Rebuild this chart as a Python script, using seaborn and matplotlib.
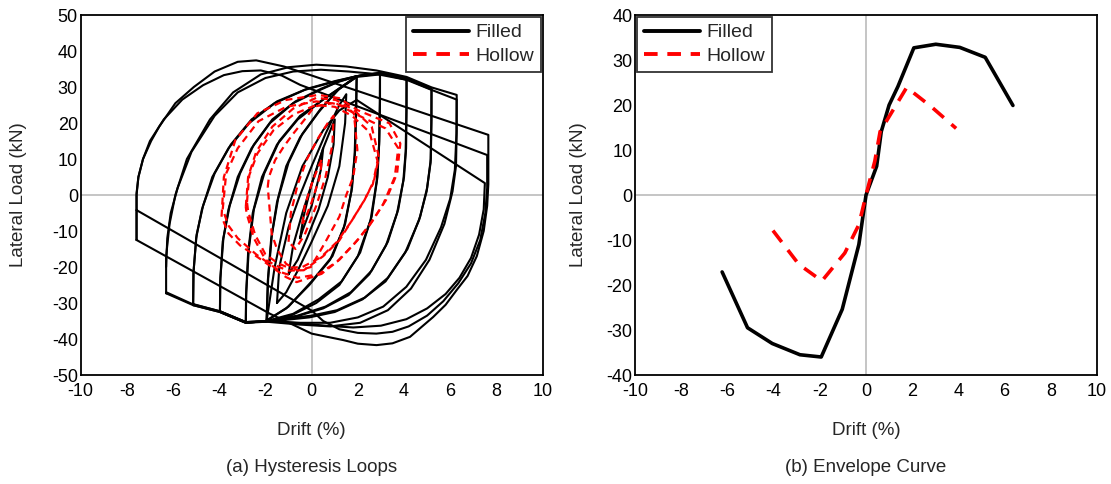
import numpy as np
import pandas as pd
import matplotlib
matplotlib.use("Agg")
import matplotlib.pyplot as plt
from matplotlib.lines import Line2D
import seaborn as sns

sns.set_style("white")
plt.rcParams["font.family"] = ["Liberation Sans", "DejaVu Sans"]
plt.rcParams["axes.unicode_minus"] = False

# ---------------- hysteresis loops: filled specimen (drift %, load kN) ----------------
f05_drift = [-0.5, -0.35, 0.0, 0.35, 0.5, 0.4, 0.0, -0.4, -0.5]
f05_load = [-12, -6, 3, 10, 13, 7, -3, -10, -12]

f10_drift = [-1.0, -0.8, -0.4, 0.0, 0.5, 1.0, 0.95, 0.7, 0.3, -0.2, -0.6, -1.0]
f10_load = [-22, -14, -5, 3, 13, 21, 14, 5, -4, -12, -18, -22]

f15_drift = [-1.5, -1.4, -1.0, -0.5, 0.0, 0.6, 1.2, 1.5, 1.45, 1.2, 0.7, 0.0, -0.6, -1.1, -1.5]
f15_load = [-30, -20, -9, 0, 8, 17, 25, 28, 20, 8, -3, -13, -21, -27, -30]

f20a_drift = [-1.95, -1.9, -1.75, -1.5, -1.1, -0.5, 0.3, 1.1, 1.95, 1.93, 1.88, 1.75, 1.45, 0.9, 0.0, -1.0, -1.95]
f20a_load = [-35, -24, -12, -2, 8, 16, 23, 29, 33, 24, 12, 2, -8, -17, -24, -31, -35]

f20b_drift = [-1.95, -1.88, -1.72, -1.45, -1.0, -0.4, 0.4, 1.2, 1.95, 1.92, 1.86, 1.72, 1.4, 0.8, -0.1, -1.1, -1.95]
f20b_load = [-34.8, -23, -11, -1, 9, 17, 24, 29.5, 32.8, 23, 11, 1, -9, -18, -25, -31.5, -34.8]

f30a_drift = [-2.85, -2.84, -2.75, -2.55, -2.15, -1.5, -0.6, 0.5, 1.3, 1.95, 2.96,
              2.96, 2.93, 2.85, 2.6, 2.1, 1.3, 0.3, -0.8, -1.95, -2.85]
f30a_load = [-35.5, -28, -16, -5, 5, 14, 21, 26.5, 30, 33, 33.9,
             26, 15, 5, -6, -16, -24, -29, -33, -35, -35.5]

f30b_drift = [-2.85, -2.83, -2.72, -2.5, -2.05, -1.4, -0.5, 0.6, 1.35, 1.95, 2.96,
              2.95, 2.92, 2.82, 2.55, 2.0, 1.2, 0.2, -0.9, -1.95, -2.85]
f30b_load = [-35.3, -27, -15, -4, 6, 15, 22, 27, 30.3, 32.8, 33.5,
             25, 14, 4, -7, -17, -25, -30, -33.5, -35.2, -35.3]

f40a_drift = [-3.97, -3.96, -3.85, -3.6, -3.2, -2.6, -1.8, -0.8, 0.3, 1.1, 1.95, 2.96, 4.11,
              4.11, 4.09, 4.0, 3.75, 3.3, 2.6, 1.7, 0.6, -0.6, -1.95, -2.85, -3.97]
f40a_load = [-32.5, -24, -13, -4, 5, 13, 20, 25.5, 29, 31.3, 33, 33.9, 32.5,
             24, 13, 5, -4, -13, -21, -27, -31, -33.5, -35, -35.5, -32.5]

f40b_drift = [-3.97, -3.95, -3.82, -3.55, -3.1, -2.5, -1.7, -0.7, 0.4, 1.2, 1.95, 2.96, 4.11,
              4.1, 4.07, 3.97, 3.7, 3.22, 2.5, 1.6, 0.5, -0.7, -1.95, -2.85, -3.97]
f40b_load = [-32.3, -23, -12, -3, 6, 14, 21, 26, 29.5, 31.6, 33, 33.7, 32.0,
             23, 12, 4, -5, -14, -22, -27.8, -31.5, -33.8, -35.1, -35.3, -32.3]

f51a_drift = [-5.13, -5.12, -5.0, -4.75, -4.3, -3.6, -2.7, -1.6, -0.3, 1.0, 1.95, 2.96, 4.11, 5.19,
              5.19, 5.16, 5.0, 4.7, 4.15, 3.3, 2.3, 1.1, 0.0, -1.0, -1.95, -2.85, -3.97, -5.13]
f51a_load = [-30.6, -22, -12, -4, 5, 13, 20, 25.5, 29.2, 31.5, 33, 33.9, 32.5, 29.7,
             21, 10, 2, -6, -15, -23, -28.5, -32, -33.5, -34.3, -35, -35.5, -32.5, -30.6]

f51b_drift = [-5.13, -5.11, -4.98, -4.7, -4.2, -3.5, -2.6, -1.5, -0.2, 1.05, 1.95, 2.96, 4.11, 5.19,
              5.18, 5.15, 4.98, 4.65, 4.05, 3.2, 2.2, 1.0, -0.1, -1.0, -1.95, -2.85, -3.97, -5.13]
f51b_load = [-30.3, -21, -11, -3, 6, 14, 21, 26, 29.5, 31.7, 33, 33.7, 32.2, 29.3,
             20, 9, 1, -7, -16, -24, -29, -32.5, -34, -34.6, -35.1, -35.3, -32.3, -30.3]

f63a_drift = [-6.3, -6.3, -6.15, -5.9, -5.4, -4.4, -3.4, -2.2, -1.0, 0.2, 1.5, 2.8, 4.11, 5.19, 6.28,
              6.28, 6.25, 6.1, 5.75, 5.1, 4.3, 3.3, 2.1, 0.8, -0.5, -1.95, -2.85, -3.97, -5.13, -6.3]
f63a_load = [-27.3, -17, -8, 0, 10, 21, 28.5, 33.5, 35.5, 36.2, 35.7, 34.6, 32.8, 29.9, 27.8,
             18, 8, 1, -8, -18, -26, -32, -35.5, -36.5, -36, -35.2, -35.5, -32.5, -30.6, -27.3]

f63b_drift = [-6.3, -6.25, -6.1, -5.8, -5.2, -4.2, -3.2, -2.0, -0.8, 0.4, 1.6, 2.8, 4.11, 5.19, 6.28,
              6.27, 6.2, 6.0, 5.6, 4.95, 4.1, 3.1, 2.0, 0.8, -0.5, -1.95, -2.85, -3.97, -5.13, -6.3]
f63b_load = [-20, -12, -5, 2, 12, 22, 28.5, 32.5, 34.3, 34.8, 34.3, 33.6, 32.0, 29.2, 26.5,
             17, 7, -1, -9, -18, -25.5, -31, -34, -35.5, -35.5, -35, -35.3, -32.3, -30.4, -27]

f76a_drift = [-7.58, -7.58, -7.58, -7.5, -7.3, -6.95, -6.6, -5.9, -5.1, -4.2, -3.2, -2.4, -1.2, 0.0, 7.65,
              7.65, 7.6, 7.45, 7.15, 6.75, 6.28, 5.8, 5.26, 4.26, 3.5, 2.81, 2.0, 1.37, 0.6, 0.0, -1.8, -7.58]
f76a_load = [-12.5, -4.2, 0, 5, 10, 15, 19, 25.5, 30, 34.3, 37.0, 37.4, 35.7, 33.2, 16.7,
             3, -3, -10, -17, -22.5, -26.4, -30.5, -33.9, -39.4, -41.2, -41.7, -41.3, -40.3, -39.3, -38.5, -33, -12.5]

f76b_drift = [-7.58, -7.58, -7.5, -7.3, -7.0, -6.4, -5.6, -4.7, -3.8, -3.0, -2.2, -1.3, -0.5, 7.6,
              7.6, 7.52, 7.3, 6.9, 6.35, 5.7, 5.0, 4.2, 3.5, 2.8, 2.0, 1.2, 0.5, 0.0, -7.58]
f76b_load = [-12.5, 0.5, 5, 10, 15, 21, 26.5, 30.5, 33.3, 34.4, 34.6, 33.2, 30.6, 11.1,
             2, -5, -12.5, -19, -24.5, -29.5, -33.5, -36.5, -38, -38.5, -38.3, -37.3, -35, -32.1, -4.2]

f76c_drift = [-1.95, -1.6, -1.1, -0.4, 0.5, 1.2, 1.95, 7.5,
              7.45, 7.25, 6.9, 6.4, 5.8, 5.0, 4.1, 3.0, 1.8, 0.6, -0.6, -1.95]
f76c_load = [-35, -20, -5, 8, 18, 23.5, 26.4, 3.3,
             -4, -11, -17.5, -23, -27.5, -31.5, -34.5, -36.3, -36.8, -36.3, -35.6, -35]

filled_drift = [f05_drift, f10_drift, f15_drift, f20a_drift, f20b_drift, f30a_drift, f30b_drift,
                f40a_drift, f40b_drift, f51a_drift, f51b_drift, f63a_drift, f63b_drift,
                f76a_drift, f76b_drift, f76c_drift]
filled_load = [f05_load, f10_load, f15_load, f20a_load, f20b_load, f30a_load, f30b_load,
               f40a_load, f40b_load, f51a_load, f51b_load, f63a_load, f63b_load,
               f76a_load, f76b_load, f76c_load]

# ---------------- hysteresis loops: hollow specimen ----------------
h05_drift = [-0.4, -0.3, 0.0, 0.3, 0.45, 0.35, 0.0, -0.3, -0.4]
h05_load = [-8, -3, 3, 8, 10, 5, -2, -7, -8]

h10_drift = [-1.0, -0.9, -0.6, -0.2, 0.3, 0.7, 0.95, 0.9, 0.6, 0.2, -0.3, -0.7, -1.0]
h10_load = [-13, -5, 3, 10, 16, 20, 22, 14, 5, -3, -11, -15, -13]

h20_drift = [-1.9, -1.85, -1.58, -1.2, -0.8, -0.3, 0.12, 0.9, 1.5, 1.83, 1.98,
             1.8, 1.5, 1.2, 0.6, -0.03, -0.6, -1.11, -1.5, -1.73, -1.9]
h20_load = [2.3, 5, 9.7, 13.5, 17, 21, 24.6, 25.5, 24.5, 22.7, 12.5,
            5, 0, -6, -13, -20, -21, -19.1, -15, -10.7, 2.3]

h30a_drift = [-2.85, -2.75, -2.4, -1.7, -0.8, 0.2, 1.05, 1.83, 2.6, 2.91,
              2.7, 2.29, 1.8, 1.2, 0.5, -0.34, -1.0, -1.42, -2.0, -2.5, -2.82, -2.85]
h30a_load = [-3.3, 5, 12, 19, 24, 27, 26.4, 23.6, 19, 10.6,
             4, -1.4, -6.5, -12.6, -17, -20.9, -21, -20, -18, -12, -5, -3.3]

h30b_drift = [-2.8, -2.7, -2.35, -1.65, -0.75, 0.2, 1.0, 1.75, 2.5, 2.85,
              2.65, 2.2, 1.7, 1.1, 0.4, -0.4, -1.0, -1.45, -2.0, -2.45, -2.75, -2.8]
h30b_load = [-2, 5.5, 11.5, 18, 22.5, 25, 24.5, 22, 17.5, 9.5,
             3, -2.3, -7.5, -13, -17.3, -20, -20.2, -19, -16.5, -11, -4.5, -2]

h40a_drift = [-3.9, -3.8, -3.3, -2.35, -1.11, 0.28, 1.2, 1.98, 3.37, 3.84,
              3.7, 3.22, 2.6, 1.98, 1.2, 0.43, -0.65, -1.11, -2.35, -3.1, -3.6, -3.9]
h40a_load = [-6, 5, 15.3, 22.7, 26.4, 27.8, 26.9, 23.6, 19.9, 14.3,
             6, -1.4, -7.5, -12.6, -18, -21.9, -24.2, -22.8, -17.2, -14, -10.7, -6]

h40b_drift = [-3.85, -3.7, -3.2, -2.3, -1.1, 0.2, 1.1, 1.9, 3.2, 3.75,
              3.6, 3.1, 2.5, 1.85, 1.1, 0.3, -0.6, -1.3, -2.4, -3.2, -3.6, -3.85]
h40b_load = [-4, 6, 13, 20.5, 24.5, 26, 25.3, 22.5, 18.5, 13,
             5, -2.5, -8.5, -13.5, -18.5, -22, -23, -21.5, -16.5, -12, -8.5, -4]

hollow_drift = [h05_drift, h10_drift, h20_drift, h30a_drift, h30b_drift, h40a_drift, h40b_drift]
hollow_load = [h05_load, h10_load, h20_load, h30a_load, h30b_load, h40a_load, h40b_load]

# ---------------- envelope curves ----------------
env_filled_drift = [-6.23, -5.13, -4.06, -2.86, -1.94, -1.03, -0.31, 0.0, 0.46, 0.66, 1.0, 1.38,
                    2.07, 3.02, 4.06, 5.16, 6.36]
env_filled_load = [-17.1, -29.5, -33.0, -35.5, -36.0, -25.4, -11.0, 0.0, 6.4, 14.1, 20.0, 24.1,
                   32.7, 33.5, 32.8, 30.6, 19.9]

env_hollow_drift = [-4.03, -2.91, -1.91, -0.92, -0.31, 0.0, 0.38, 0.61, 1.76, 2.83, 3.9]
env_hollow_load = [-7.9, -15.4, -19.1, -12.9, -6.6, 0.0, 7.5, 14.1, 23.9, 19.6, 14.8]

x_ticks = list(range(-10, 11, 2))
y_ticks_loops = list(range(-50, 51, 10))
y_ticks_env = list(range(-40, 41, 10))


def loops_frame(drifts, loads, name):
    rows = []
    for i, (xs, ys) in enumerate(zip(drifts, loads)):
        for j, (xv, yv) in enumerate(zip(xs, ys)):
            rows.append((name, i, j, xv, yv))
    return pd.DataFrame(rows, columns=["specimen", "cycle", "step", "drift", "load"])


df_filled = loops_frame(filled_drift, filled_load, "Filled")
df_hollow = loops_frame(hollow_drift, hollow_load, "Hollow")

fig = plt.figure(figsize=(11.11, 4.84), dpi=100)
ax1 = fig.add_axes([0.0726, 0.2252, 0.4158, 0.7438])
ax2 = fig.add_axes([0.5716, 0.2252, 0.4158, 0.7438])

grid_kw = dict(color="#c0c0c0", lw=1.3, zorder=0)
for ax in (ax1, ax2):
    ax.axhline(0, **grid_kw)
    ax.axvline(0, **grid_kw)

# (a) hysteresis loops
sns.lineplot(data=df_filled, x="drift", y="load", units="cycle", estimator=None,
             sort=False, color="black", lw=1.5, ax=ax1, zorder=2)
sns.lineplot(data=df_hollow, x="drift", y="load", units="cycle", estimator=None,
             sort=False, color="red", lw=1.6, ax=ax1, zorder=3,
             linestyle=(0, (3.2, 2.2)))
ax1.set_xlim(-10, 10)
ax1.set_ylim(-50, 50)
ax1.set_xticks(x_ticks)
ax1.set_yticks(y_ticks_loops)

# (b) envelope curves
sns.lineplot(x=env_filled_drift, y=env_filled_load, sort=False, color="black",
             lw=2.6, ax=ax2, zorder=2)
sns.lineplot(x=env_hollow_drift, y=env_hollow_load, sort=False, color="red",
             lw=2.6, ax=ax2, zorder=3, linestyle=(0, (4, 2.8)))
ax2.set_xlim(-10, 10)
ax2.set_ylim(-40, 40)
ax2.set_xticks(x_ticks)
ax2.set_yticks(y_ticks_env)

handles = [Line2D([], [], color="black", lw=2.8),
           Line2D([], [], color="red", lw=2.8, linestyle=(0, (3.5, 2.5)))]
labels = ["Filled", "Hollow"]

for ax, loc, ylab_x in ((ax1, "upper right", -0.116), (ax2, "upper left", -0.104)):
    for sp in ax.spines.values():
        sp.set_color("black")
        sp.set_linewidth(1.3)
    ax.tick_params(axis="both", length=0, labelsize=13, colors="black")
    ax.tick_params(axis="x", pad=6)
    ax.tick_params(axis="y", pad=2)
    ax.set_xlabel("Drift (%)", fontsize=13.5)
    ax.set_ylabel("Lateral Load (kN)", fontsize=13.5)
    ax.xaxis.set_label_coords(0.5, -0.13)
    ax.yaxis.set_label_coords(ylab_x, 0.5)
    leg = ax.legend(handles, labels, loc=loc, fontsize=14, frameon=True,
                    fancybox=False, edgecolor="black", borderaxespad=0.1,
                    handlelength=2.9, handletextpad=0.3, borderpad=0.35,
                    labelspacing=0.3)
    leg.get_frame().set_linewidth(1.3)

fig.text(0.0726 + 0.4158 / 2, 0.035, "(a) Hysteresis Loops", ha="center", va="center",
         fontsize=13.5)
fig.text(0.5716 + 0.4158 / 2, 0.035, "(b) Envelope Curve", ha="center", va="center",
         fontsize=13.5)

fig.savefig("out.png", dpi=100)
